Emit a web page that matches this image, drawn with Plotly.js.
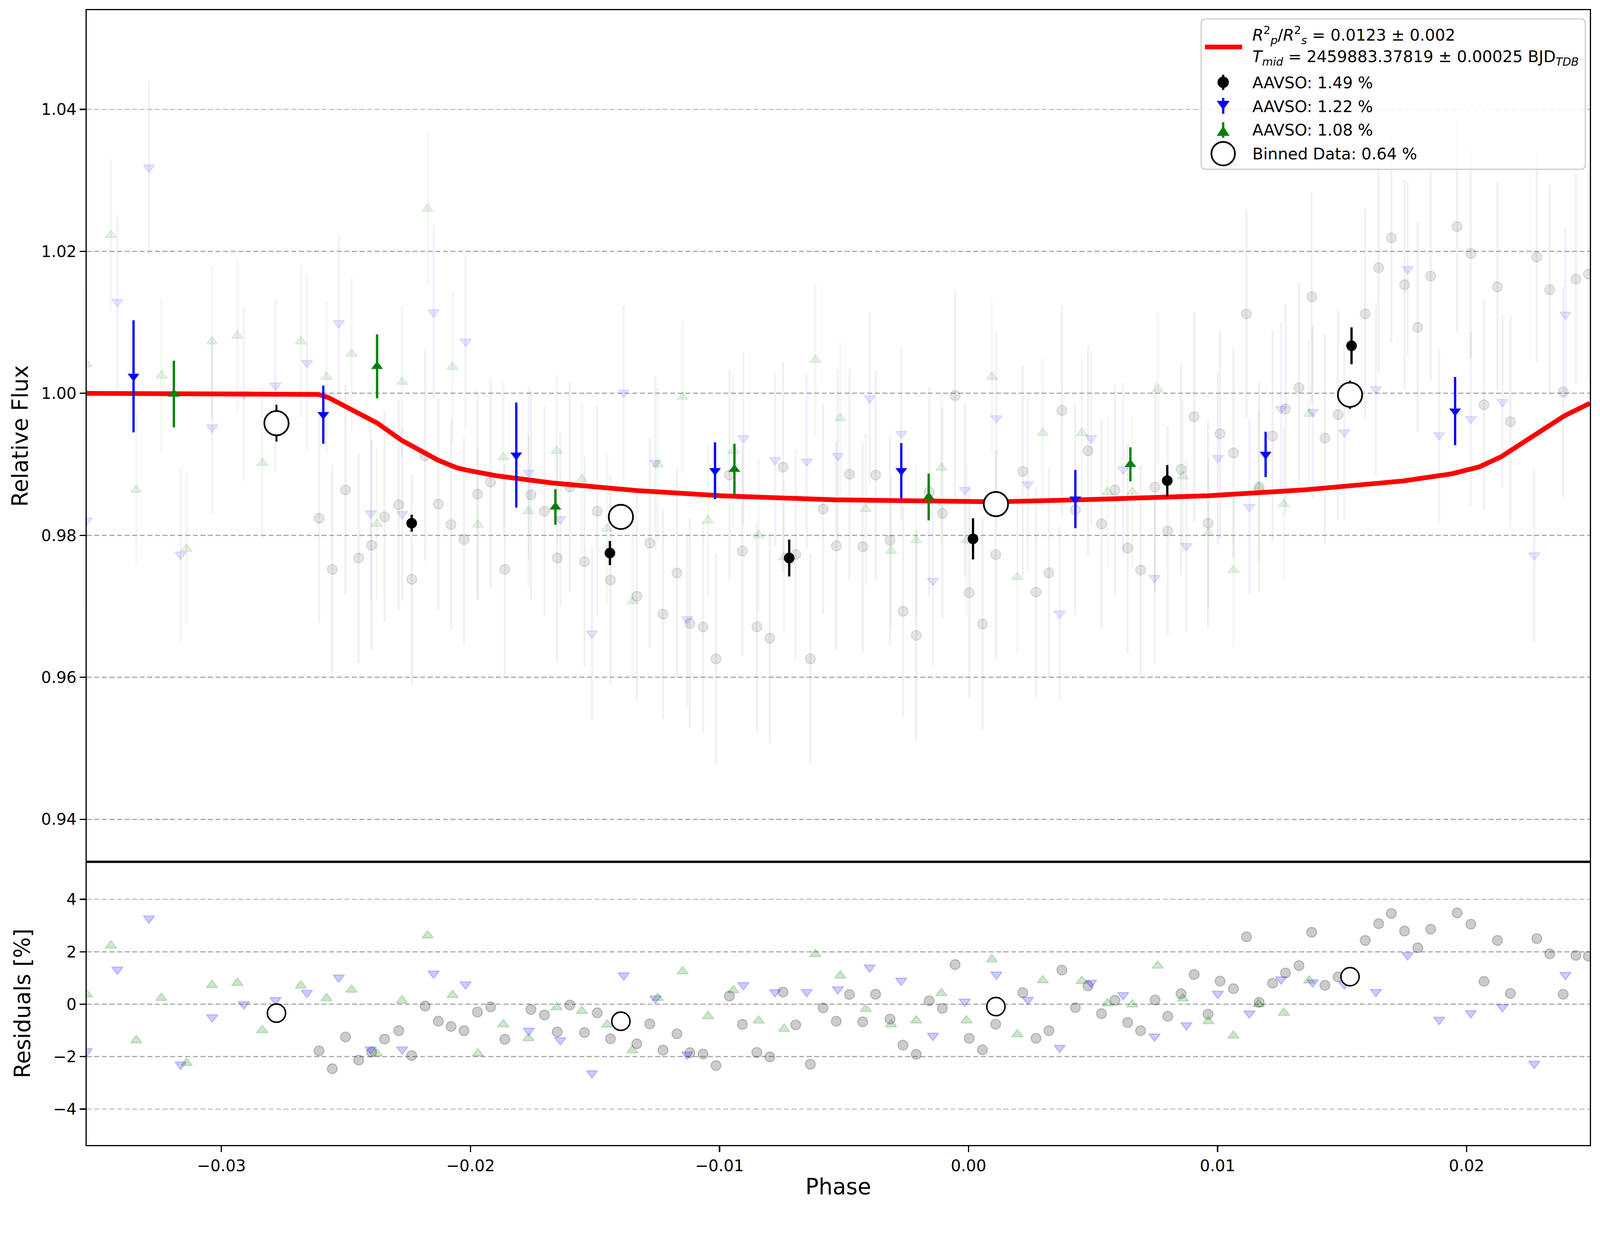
<!DOCTYPE html>
<html>
<head>
<meta charset="utf-8">
<script src="https://cdn.plot.ly/plotly-3.0.1.min.js"></script>
<style>
  html, body { margin: 0; padding: 0; background: #fff; overflow: hidden; }
</style>
</head>
<body>
<div id="graph1"></div>
<script>
// faint points: AAVSO observer with 1.49 % scatter (black, alpha)
let grayPhase = [-0.02608,-0.02555,-0.02502,-0.02449,-0.02397,-0.02345,-0.02288,-0.02236,-0.02182,-0.02129,
  -0.02078,-0.02026,-0.01972,-0.01919,-0.01862,-0.01757,-0.01703,-0.01652,-0.01601,-0.01542,
  -0.01491,-0.01438,-0.01332,-0.01280,-0.01227,-0.01171,-0.01119,-0.01066,-0.01014,-0.00960,
  -0.00908,-0.00850,-0.00798,-0.00745,-0.00694,-0.00635,-0.00584,-0.00531,-0.00478,-0.00425,
  -0.00373,-0.00315,-0.00263,-0.00210,-0.00158,-0.00105,-0.00054,0.00003,0.00056,0.00109,
  0.00218,0.00271,0.00323,0.00375,0.00429,0.00480,0.00534,0.00588,0.00639,0.00691,
  0.00749,0.00800,0.00853,0.00906,0.00962,0.01010,0.01064,0.01116,0.01167,0.01221,
  0.01273,0.01327,0.01378,0.01431,0.01484,0.01593,0.01647,0.01698,0.01751,0.01804,
  0.01856,0.01962,0.02017,0.02070,0.02124,0.02176,0.02282,0.02334,0.02388,0.02439,0.02489];
let grayFlux = [0.9824,0.9752,0.9864,0.9768,0.9786,0.9826,0.9843,0.9738,0.9912,0.9844,
  0.9815,0.9794,0.9858,0.9875,0.9752,0.9857,0.9834,0.9768,0.9868,0.9763,
  0.9834,0.9737,0.9714,0.9789,0.9689,0.9747,0.9676,0.9671,0.9626,0.9885,
  0.9778,0.9671,0.9655,0.9896,0.9773,0.9626,0.9837,0.9785,0.9886,0.9784,
  0.9885,0.9793,0.9693,0.9659,0.9861,0.9831,0.9997,0.9719,0.9675,0.9773,
  0.9890,0.9720,0.9747,0.9976,0.9836,0.9919,0.9816,0.9864,0.9782,0.9751,
  0.9868,0.9806,0.9893,0.9967,0.9817,0.9943,0.9916,1.0112,0.9868,0.9940,
  0.9978,1.0008,1.0136,0.9937,0.9970,1.0112,1.0177,1.0219,1.0153,1.0093,
  1.0165,1.0235,1.0197,0.9984,1.0150,0.9960,1.0192,1.0146,1.0002,1.0161,1.0168];
let grayResid = [-1.78,-2.46,-1.25,-2.13,-1.83,-1.33,-1.01,-1.96,-0.07,-0.65,
  -0.85,-1.01,-0.30,-0.10,-1.34,-0.20,-0.41,-1.06,-0.03,-1.08,
  -0.33,-1.32,-1.51,-0.75,-1.75,-1.13,-1.85,-1.90,-2.34,0.31,
  -0.77,-1.84,-2.01,0.46,-0.79,-2.29,-0.14,-0.65,0.37,-0.67,
  0.38,-0.57,-1.56,-1.91,0.13,-0.16,1.51,-1.30,-1.74,-0.76,
  0.44,-1.30,-1.01,1.30,-0.13,0.70,-0.36,0.15,-0.70,-1.01,
  0.16,-0.46,0.40,1.13,-0.38,0.88,0.59,2.57,0.07,0.80,
  1.19,1.47,2.74,0.72,1.04,2.43,3.07,3.46,2.79,2.15,
  2.86,3.48,3.05,0.87,2.43,0.41,2.50,1.92,0.38,1.86,1.83];
let grayErr = 0.0148;

// faint points: 1.22 % observer (blue, down triangles)
let bluePhase = [-0.03541,-0.03418,-0.03291,-0.03164,-0.03037,-0.02910,-0.02783,-0.02657,-0.02529,-0.02401,
  -0.02274,-0.02148,-0.02020,-0.01766,-0.01639,-0.01512,-0.01385,-0.01257,-0.01130,-0.00904,
  -0.00777,-0.00650,-0.00525,-0.00397,-0.00270,-0.00143,-0.00015,0.00112,0.00238,0.00366,
  0.00492,0.00621,0.00747,0.00875,0.01001,0.01128,0.01255,0.01382,0.01509,0.01636,
  0.01763,0.01890,0.02017,0.02144,0.02272,0.02397];
let blueFlux = [0.9821,1.0129,1.0318,0.9773,0.9952,0.9999,1.0011,1.0043,1.0099,0.9831,
  0.9830,1.0114,1.0073,0.9888,0.9823,0.9662,1.0001,0.9902,0.9682,0.9937,
  0.9906,0.9904,0.9912,0.9993,0.9943,0.9736,0.9864,0.9965,0.9872,0.9690,
  0.9937,0.9893,0.9740,0.9785,0.9909,0.9840,0.9978,0.9974,0.9945,1.0006,
  1.0175,0.9941,0.9964,0.9988,0.9772,1.0111];
let blueResid = [-1.79,1.32,3.27,-2.30,-0.50,0.00,0.16,0.44,1.02,-1.72,
  -1.72,1.17,0.76,-1.01,-1.37,-2.63,1.10,0.22,-1.92,0.73,
  0.46,0.47,0.57,1.40,0.90,-1.20,0.10,1.13,0.17,-1.66,
  0.82,0.35,-1.23,-0.80,0.40,-0.35,0.95,0.83,0.76,0.47,
  1.87,-0.59,-0.34,-0.11,-2.27,1.12];
let blueErr = 0.0122;

// faint points: 1.08 % observer (green, up triangles)
let greenPhase = [-0.03541,-0.03444,-0.03342,-0.03241,-0.03140,-0.03038,-0.02936,-0.02836,-0.02681,-0.02578,
  -0.02477,-0.02376,-0.02275,-0.02172,-0.02072,-0.01970,-0.01868,-0.01767,-0.01654,-0.01553,
  -0.01451,-0.01350,-0.01248,-0.01148,-0.01046,-0.00944,-0.00843,-0.00741,-0.00615,-0.00515,
  -0.00413,-0.00311,-0.00210,-0.00109,-0.00008,0.00094,0.00196,0.00298,0.00455,0.00558,
  0.00658,0.00760,0.00861,0.00963,0.01064,0.01165,0.01266,0.01368];
let greenFlux = [1.0041,1.0223,0.9864,1.0025,0.9781,1.0073,1.0081,0.9902,1.0073,1.0023,
  1.0056,0.9816,1.0016,1.0260,1.0037,0.9815,0.9910,0.9834,0.9919,0.9879,
  0.9809,0.9707,0.9900,0.9995,0.9821,0.9919,0.9800,0.9769,1.0047,0.9965,
  0.9837,0.9778,0.9793,0.9895,0.9793,1.0023,0.9741,0.9944,0.9944,0.9861,
  0.9861,1.0006,0.9883,0.9803,0.9751,0.9868,0.9844,0.9971];
let greenResid = [0.37,2.23,-1.38,0.24,-2.24,0.73,0.81,-0.99,0.71,0.23,
  0.55,-1.88,0.14,2.62,0.35,-1.88,-0.77,-1.30,-0.12,-0.26,
  -0.78,-1.76,0.24,1.25,-0.46,0.53,-0.63,-0.94,1.91,1.09,
  -0.18,-0.77,-0.62,0.42,-0.62,1.71,-1.15,0.91,0.88,0.03,
  -0.01,1.47,0.22,-0.65,-1.20,0.00,-0.33,0.90];
let greenErr = 0.0107;

// transit model (red curve)
let modelPhase = [-0.03541,-0.02647,-0.02610,-0.02569,-0.02471,-0.02375,-0.02277,-0.02180,-0.02131,-0.02054,
  -0.02017,-0.01894,-0.01670,-0.01331,-0.00990,-0.00535,0.00115,0.00504,0.00959,0.01352,
  0.01744,0.01941,0.02049,0.02137,0.02285,0.02393,0.02495];
let modelFlux = [1.0000,1.0000,0.99985,0.99938,0.9975,0.99583,0.9934,0.9916,0.9906,0.9895,
  0.9892,0.98838,0.98737,0.9863,0.98557,0.9850,0.98472,0.98506,0.98557,0.98641,
  0.98765,0.98867,0.98962,0.99103,0.99442,0.99684,0.9986];

// binned points per observer
let blackPhase = [-0.02236,-0.01440,-0.00720,0.00018,0.00798,0.01538];
let blackFlux = [0.9817,0.9775,0.9768,0.9795,0.9877,1.0067];
let blackErr = [0.0012,0.0017,0.0026,0.0029,0.0022,0.0026];

let blueBinPhase = [-0.03353,-0.02591,-0.01816,-0.01018,-0.00270,0.00429,0.01193,0.01954];
let blueBinFlux = [1.0024,0.9970,0.9913,0.9891,0.9891,0.9851,0.9914,0.9975];
let blueBinErr = [0.0079,0.0041,0.0074,0.0040,0.0039,0.0041,0.0032,0.0048];

let greenBinPhase = [-0.03191,-0.02375,-0.01659,-0.00940,-0.00160,0.00650];
let greenBinFlux = [0.9999,1.0038,0.9840,0.9893,0.9854,0.9900];
let greenBinErr = [0.0047,0.0045,0.0025,0.0036,0.0033,0.0024];

// combined binned data (open circles)
let openPhase = [-0.02779,-0.01396,0.00110,0.01532];
let openFlux = [0.9958,0.9826,0.9844,0.9998];
let openErr = [0.0026,0.0015,0.0015,0.0020];
let openResid = [-0.34,-0.65,-0.09,1.05];

let legendText = [
  '<i>R</i><sup>2</sup><sub><i>p</i></sub>/<i>R</i><sup>2</sup><sub><i>s</i></sub> = 0.0123 ± 0.002',
  '<i>T<sub>mid</sub></i> = 2459883.37819 ± 0.00025 BJD<sub><i>TDB</i></sub>',
  'AAVSO: 1.49 %',
  'AAVSO: 1.22 %',
  'AAVSO: 1.08 %',
  'Binned Data: 0.64 %'
];

// the figure is laid out for 4215 x 3192, scaled to the window
let s = Math.min(window.innerWidth / 4215, window.innerHeight / 3192) || 1;
function px(v) { return v * s; }

function faint(x, y, err, symbol, rgb) {
  return {
    x: x, y: y, type: 'scatter', mode: 'markers', showlegend: false, hoverinfo: 'skip',
    marker: { symbol: symbol, size: px(26), color: 'rgba(' + rgb + ',0.1)',
      line: { color: 'rgba(' + rgb + ',0.1)', width: px(3) } },
    error_y: { type: 'constant', value: err, color: 'rgba(' + rgb + ',0.06)', thickness: px(5.5), width: 0 }
  };
}

function resid(x, y, symbol, rgb) {
  return {
    x: x, y: y, xaxis: 'x2', yaxis: 'y2', type: 'scatter', mode: 'markers', showlegend: false, hoverinfo: 'skip',
    marker: { symbol: symbol, size: px(26), color: 'rgba(' + rgb + ',0.2)',
      line: { color: 'rgba(' + rgb + ',0.2)', width: px(3) } }
  };
}

function binned(x, y, err, symbol, size, color) {
  return {
    x: x, y: y, type: 'scatter', mode: 'markers', showlegend: false,
    marker: { symbol: symbol, size: px(size), color: color, line: { width: 0 } },
    error_y: { type: 'data', array: err, color: color, thickness: px(6), width: 0 }
  };
}

let data = [
  faint(grayPhase, grayFlux, grayErr, 'circle', '0,0,0'),
  faint(bluePhase, blueFlux, blueErr, 'triangle-down', '0,0,255'),
  faint(greenPhase, greenFlux, greenErr, 'triangle-up', '0,128,0'),
  {
    x: modelPhase, y: modelFlux, type: 'scatter', mode: 'lines', showlegend: false,
    line: { color: 'red', width: px(12.5) }
  },
  binned(blackPhase, blackFlux, blackErr, 'circle', 28, 'black'),
  binned(blueBinPhase, blueBinFlux, blueBinErr, 'triangle-down', 27, 'blue'),
  binned(greenBinPhase, greenBinFlux, greenBinErr, 'triangle-up', 27, 'green'),
  {
    x: openPhase, y: openFlux, type: 'scatter', mode: 'markers', showlegend: false,
    marker: { symbol: 'circle', size: px(64), color: 'white', line: { color: 'black', width: px(4.5) } },
    error_y: { type: 'data', array: openErr, color: 'black', thickness: px(5), width: 0 }
  },
  resid(grayPhase, grayResid, 'circle', '0,0,0'),
  resid(bluePhase, blueResid, 'triangle-down', '0,0,255'),
  resid(greenPhase, greenResid, 'triangle-up', '0,128,0'),
  {
    x: openPhase, y: openResid, xaxis: 'x2', yaxis: 'y2', type: 'scatter', mode: 'markers', showlegend: false,
    marker: { symbol: 'circle', size: px(48), color: 'white', line: { color: 'black', width: px(4) } }
  }
];

// legend drawn by hand (matplotlib style box), positions in figure pixels
function fx(p) { return (p - 228) / 3960; }
function fy(p) { return (3016 - p) / 2989; }
let box = { l: 3164, t: 50, r: 4176, b: 446, c: 12 };
let symX = 3222, textX = 3298;
let rowY = [93, 153, 218, 281, 343, 406];

let shapes = [
  {
    type: 'path', xref: 'paper', yref: 'paper', layer: 'above',
    path: 'M' + fx(box.l + box.c) + ',' + fy(box.t) + ' L' + fx(box.r - box.c) + ',' + fy(box.t) +
      ' Q' + fx(box.r) + ',' + fy(box.t) + ' ' + fx(box.r) + ',' + fy(box.t + box.c) +
      ' L' + fx(box.r) + ',' + fy(box.b - box.c) +
      ' Q' + fx(box.r) + ',' + fy(box.b) + ' ' + fx(box.r - box.c) + ',' + fy(box.b) +
      ' L' + fx(box.l + box.c) + ',' + fy(box.b) +
      ' Q' + fx(box.l) + ',' + fy(box.b) + ' ' + fx(box.l) + ',' + fy(box.b - box.c) +
      ' L' + fx(box.l) + ',' + fy(box.t + box.c) +
      ' Q' + fx(box.l) + ',' + fy(box.t) + ' ' + fx(box.l + box.c) + ',' + fy(box.t) + ' Z',
    fillcolor: 'rgba(255,255,255,0.8)', line: { color: '#cccccc', width: px(3) }
  },
  { type: 'line', xref: 'paper', yref: 'paper', layer: 'above', x0: fx(3174), x1: fx(3272), y0: fy(124), y1: fy(124),
    line: { color: 'red', width: px(12.5) } },
  // black point with error bar
  { type: 'line', xref: 'paper', yref: 'paper', layer: 'above', x0: fx(symX), x1: fx(symX), y0: fy(197), y1: fy(237),
    line: { color: 'black', width: px(6) } },
  { type: 'circle', xref: 'paper', yref: 'paper', layer: 'above', x0: fx(symX - 15), x1: fx(symX + 15), y0: fy(202), y1: fy(232),
    fillcolor: 'black', line: { width: 0 } },
  // blue down triangle
  { type: 'line', xref: 'paper', yref: 'paper', layer: 'above', x0: fx(symX), x1: fx(symX), y0: fy(258), y1: fy(300),
    line: { color: 'blue', width: px(6) } },
  { type: 'path', xref: 'paper', yref: 'paper', layer: 'above',
    path: 'M' + fx(symX - 17) + ',' + fy(266) + ' L' + fx(symX + 17) + ',' + fy(266) + ' L' + fx(symX) + ',' + fy(290) + ' Z',
    fillcolor: 'blue', line: { width: 0 } },
  // green up triangle
  { type: 'line', xref: 'paper', yref: 'paper', layer: 'above', x0: fx(symX), x1: fx(symX), y0: fy(322), y1: fy(363),
    line: { color: 'green', width: px(6) } },
  { type: 'path', xref: 'paper', yref: 'paper', layer: 'above',
    path: 'M' + fx(symX - 17) + ',' + fy(358) + ' L' + fx(symX + 17) + ',' + fy(358) + ' L' + fx(symX) + ',' + fy(332) + ' Z',
    fillcolor: 'green', line: { width: 0 } },
  // open circle
  { type: 'circle', xref: 'paper', yref: 'paper', layer: 'above', x0: fx(symX - 31), x1: fx(symX + 31), y0: fy(374), y1: fy(436),
    fillcolor: 'white', line: { color: 'black', width: px(4.5) } }
];

let annotations = legendText.map(function(t, i) {
  return {
    text: t, xref: 'paper', yref: 'paper', x: fx(textX), y: fy(rowY[i]),
    xanchor: 'left', yanchor: 'middle', showarrow: false, borderpad: 0,
    font: { size: px(42), color: 'black', family: 'DejaVu Sans' }
  };
});

let axisCommon = {
  showline: true, linecolor: 'black', linewidth: px(3.3), mirror: true,
  ticks: 'outside', ticklen: px(15), tickwidth: px(3.3), tickcolor: 'black',
  zeroline: false, automargin: false,
  tickfont: { size: px(42), color: 'black' }
};
let gridStyle = {
  showgrid: true, gridcolor: '#aaaaaa', gridwidth: px(3),
  griddash: px(13).toFixed(1) + 'px,' + px(7).toFixed(1) + 'px'
};
let xTicks = [-0.03, -0.02, -0.01, 0.00, 0.01, 0.02];
let xRange = [-0.03541, 0.02495];

let layout = {
  width: px(4215), height: px(3192),
  margin: { l: px(228), r: px(27), t: px(27), b: px(176) },
  paper_bgcolor: 'white', plot_bgcolor: 'white',
  font: { family: 'DejaVu Sans', color: 'black' },
  showlegend: false,
  xaxis: Object.assign({}, axisCommon, {
    domain: [0, 1], anchor: 'y', range: xRange, tickvals: xTicks,
    ticks: '', showticklabels: false, showgrid: false
  }),
  yaxis: Object.assign({}, axisCommon, gridStyle, {
    domain: [0.24958, 1], anchor: 'x', range: [0.93401, 1.05398],
    tick0: 0.94, dtick: 0.02, tickformat: '.2f',
    title: { text: 'Relative Flux', font: { size: px(58) }, standoff: px(17) }
  }),
  xaxis2: Object.assign({}, axisCommon, {
    domain: [0, 1], anchor: 'y2', range: xRange, tickvals: xTicks, tickformat: '.2f',
    showgrid: false,
    title: { text: 'Phase', font: { size: px(58) }, standoff: px(12) }
  }),
  yaxis2: Object.assign({}, axisCommon, gridStyle, {
    domain: [0, 0.24958], anchor: 'x2', range: [-5.37, 5.43],
    tickvals: [-4, -2, 0, 2, 4], tickformat: 'd',
    title: { text: 'Residuals [%]', font: { size: px(58) }, standoff: px(42) }
  }),
  shapes: shapes,
  annotations: annotations
};

Plotly.newPlot('graph1', data, layout, { staticPlot: true });
</script>
</body>
</html>
